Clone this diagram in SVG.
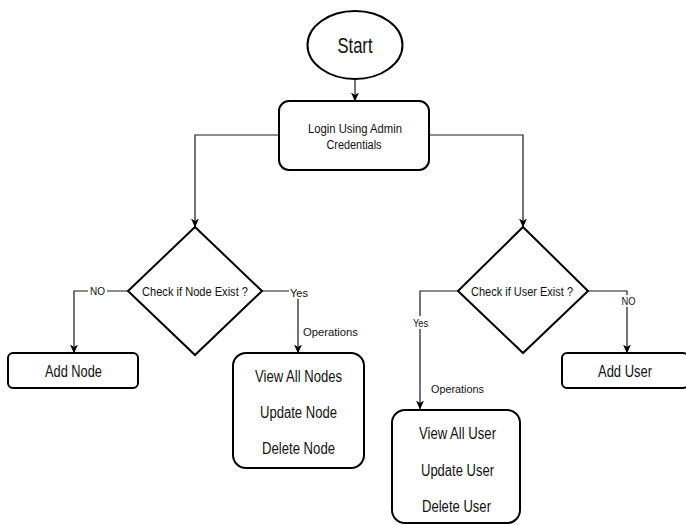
<svg xmlns="http://www.w3.org/2000/svg" width="686" height="525" viewBox="0 0 686 525">
  <style>
    .shape { fill: #ffffff; stroke: #000000; stroke-width: 2; }
    .edge { fill: none; stroke: #1a1a1a; stroke-width: 1.2; }
    text { font-family: "Liberation Sans", Arial, sans-serif; fill: #111111; text-anchor: middle; }
    .big { font-size: 16px; }
    .mid { font-size: 12px; }
    .small { font-size: 11px; }
    .lblbg { fill: #ffffff; stroke: none; }
  </style>
  <defs>
    <marker id="arrow" markerWidth="9" markerHeight="8" refX="8.5" refY="4" orient="auto" markerUnits="userSpaceOnUse">
      <path d="M0 0 L9 4 L0 8 L2.5 4 Z" fill="#000000"/>
    </marker>
  </defs>
  <rect width="686" height="525" fill="#ffffff"/>

  <!-- connectors -->
  <g id="connectors">
    <path class="edge" d="M355 79 V101" marker-end="url(#arrow)"/>
    <path class="edge" d="M279 135 H195 V227" marker-end="url(#arrow)"/>
    <path class="edge" d="M429 135 H523 V227" marker-end="url(#arrow)"/>
    <path class="edge" d="M128 291 H74 V353" marker-end="url(#arrow)"/>
    <path class="edge" d="M262 291 H298 V353" marker-end="url(#arrow)"/>
    <path class="edge" d="M458 291 H420 V409" marker-end="url(#arrow)"/>
    <path class="edge" d="M588 291 H627 V353" marker-end="url(#arrow)"/>

    <!-- edge labels -->
    <rect class="lblbg" x="88" y="285" width="19" height="12"/>
    <text class="small" x="97.5" y="295" textLength="15" lengthAdjust="spacingAndGlyphs">NO</text>
    <rect class="lblbg" x="289" y="286" width="20" height="13"/>
    <text class="small" x="299" y="297" textLength="18" lengthAdjust="spacingAndGlyphs">Yes</text>
    <text class="small" x="330.5" y="336" textLength="55" lengthAdjust="spacingAndGlyphs">Operations</text>
    <rect class="lblbg" x="411" y="316" width="19" height="13"/>
    <text class="small" x="420.5" y="327" textLength="15" lengthAdjust="spacingAndGlyphs">Yes</text>
    <text class="small" x="457.5" y="393" textLength="53" lengthAdjust="spacingAndGlyphs">Operations</text>
    <rect class="lblbg" x="620" y="295" width="16" height="12"/>
    <text class="small" x="628.5" y="305" textLength="14" lengthAdjust="spacingAndGlyphs">NO</text>
  </g>

  <!-- nodes -->
  <g id="start">
    <ellipse class="shape" cx="355" cy="45" rx="47.5" ry="34"/>
    <text x="355" y="53" font-size="22" textLength="35" lengthAdjust="spacingAndGlyphs">Start</text>
  </g>

  <g id="login">
    <rect class="shape" x="279" y="101" width="150" height="69" rx="10"/>
    <text class="mid" x="355" y="133" textLength="94" lengthAdjust="spacingAndGlyphs">Login Using Admin</text>
    <text class="mid" x="354" y="149" textLength="55" lengthAdjust="spacingAndGlyphs">Credentials</text>
  </g>

  <g id="check-node">
    <polygon class="shape" points="195,227 262,291 195,355 128,291"/>
    <text class="mid" x="195" y="296" textLength="106" lengthAdjust="spacingAndGlyphs">Check if Node Exist ?</text>
  </g>

  <g id="check-user">
    <polygon class="shape" points="523,227 588,291 523,353 458,291"/>
    <text class="mid" x="522" y="296" textLength="102" lengthAdjust="spacingAndGlyphs">Check if User Exist ?</text>
  </g>

  <g id="add-node">
    <rect class="shape" x="8" y="353" width="130" height="35" rx="5"/>
    <text class="big" x="73.5" y="377" textLength="57" lengthAdjust="spacingAndGlyphs">Add Node</text>
  </g>

  <g id="node-operations">
    <rect class="shape" x="233" y="353" width="131" height="115" rx="13"/>
    <text class="big" x="298.5" y="382" textLength="87" lengthAdjust="spacingAndGlyphs">View All Nodes</text>
    <text class="big" x="298.5" y="418" textLength="77" lengthAdjust="spacingAndGlyphs">Update Node</text>
    <text class="big" x="298.5" y="454" textLength="73" lengthAdjust="spacingAndGlyphs">Delete Node</text>
  </g>

  <g id="user-operations">
    <rect class="shape" x="392" y="410" width="128" height="113" rx="13"/>
    <text class="big" x="457.5" y="439" textLength="77" lengthAdjust="spacingAndGlyphs">View All User</text>
    <text class="big" x="457.5" y="476" textLength="73" lengthAdjust="spacingAndGlyphs">Update User</text>
    <text class="big" x="456.5" y="512" textLength="69" lengthAdjust="spacingAndGlyphs">Delete User</text>
  </g>

  <g id="add-user">
    <rect class="shape" x="562" y="353" width="126" height="35" rx="5"/>
    <text class="big" x="625" y="377" textLength="54" lengthAdjust="spacingAndGlyphs">Add User</text>
  </g>
</svg>
